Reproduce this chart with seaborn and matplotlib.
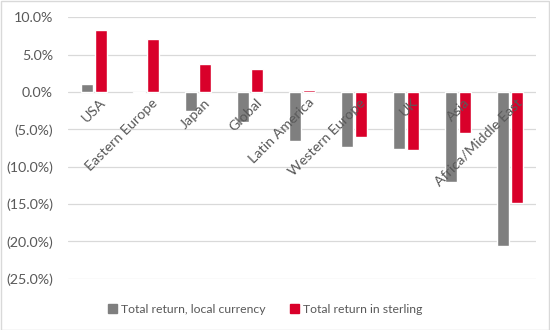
import matplotlib
matplotlib.use("Agg")
import matplotlib.pyplot as plt
import matplotlib.patches as mpatches
import seaborn as sns
import pandas as pd
from matplotlib.ticker import FuncFormatter, MultipleLocator

categories = ["USA", "Eastern Europe", "Japan", "Global", "Latin America",
              "Western Europe", "UK", "Asia", "Africa/Middle East"]
local_currency = [1.1, -0.2, -2.5, -4.0, -6.5, -7.3, -7.6, -12.0, -20.6]
sterling = [8.3, 7.1, 3.7, 3.1, 0.2, -6.0, -7.7, -5.5, -14.9]
series_names = ["Total return, local currency", "Total return in sterling"]

df = pd.DataFrame({
    "Region": categories * 2,
    "Series": [series_names[0]] * len(categories) + [series_names[1]] * len(categories),
    "Value": local_currency + sterling,
})

sns.set_theme(style="white")
plt.rcParams["font.family"] = ["Lato", "DejaVu Sans"]
text_color = "#595959"

fig = plt.figure(figsize=(5.5, 3.3), dpi=100)
ax = fig.add_axes([0.124, 0.155, 0.851, 0.793])

sns.barplot(data=df, x="Region", y="Value", hue="Series", order=categories,
            hue_order=series_names, palette=["#7f7f7f", "#d9002a"],
            width=0.54, gap=0.12, ax=ax, legend=False, saturation=1)

ax.set_ylim(-25, 10)
ax.yaxis.set_major_locator(MultipleLocator(5))

def fmt(v, pos):
    if abs(v) < 1e-9:
        return "0.0%"
    if v < 0:
        return f"({abs(v):.1f}%)"
    return f"{v:.1f}%"

ax.yaxis.set_major_formatter(FuncFormatter(fmt))
ax.tick_params(axis="y", labelsize=10.3, colors=text_color, length=0, pad=11)
ax.set_xlim(-0.5, len(categories) - 0.5)
ax.set_xticks([])
ax.set_xlabel("")
ax.set_ylabel("")
ax.grid(axis="y", color="#d9d9d9", linewidth=0.9)
ax.set_axisbelow(True)
for s in ax.spines.values():
    s.set_visible(False)

for i, c in enumerate(categories):
    ax.text(i + 0.1, -0.6, c, rotation=45, rotation_mode="anchor",
            ha="right", va="top", fontsize=10.3, color=text_color)

handles = [mpatches.Patch(color="#7f7f7f", label=series_names[0]),
           mpatches.Patch(color="#d9002a", label=series_names[1])]
fig.legend(handles=handles, loc="center", bbox_to_anchor=(0.482, 0.063), ncol=2,
           frameon=False, fontsize=8.8, labelcolor=text_color,
           handlelength=0.75, handleheight=0.75, handletextpad=0.3, columnspacing=2.0)

fig.add_artist(mpatches.Rectangle((0.001, 0.001), 0.997, 0.997, transform=fig.transFigure,
                                  fill=False, edgecolor="#d9d9d9", linewidth=1))

fig.savefig("out.png", dpi=100)
